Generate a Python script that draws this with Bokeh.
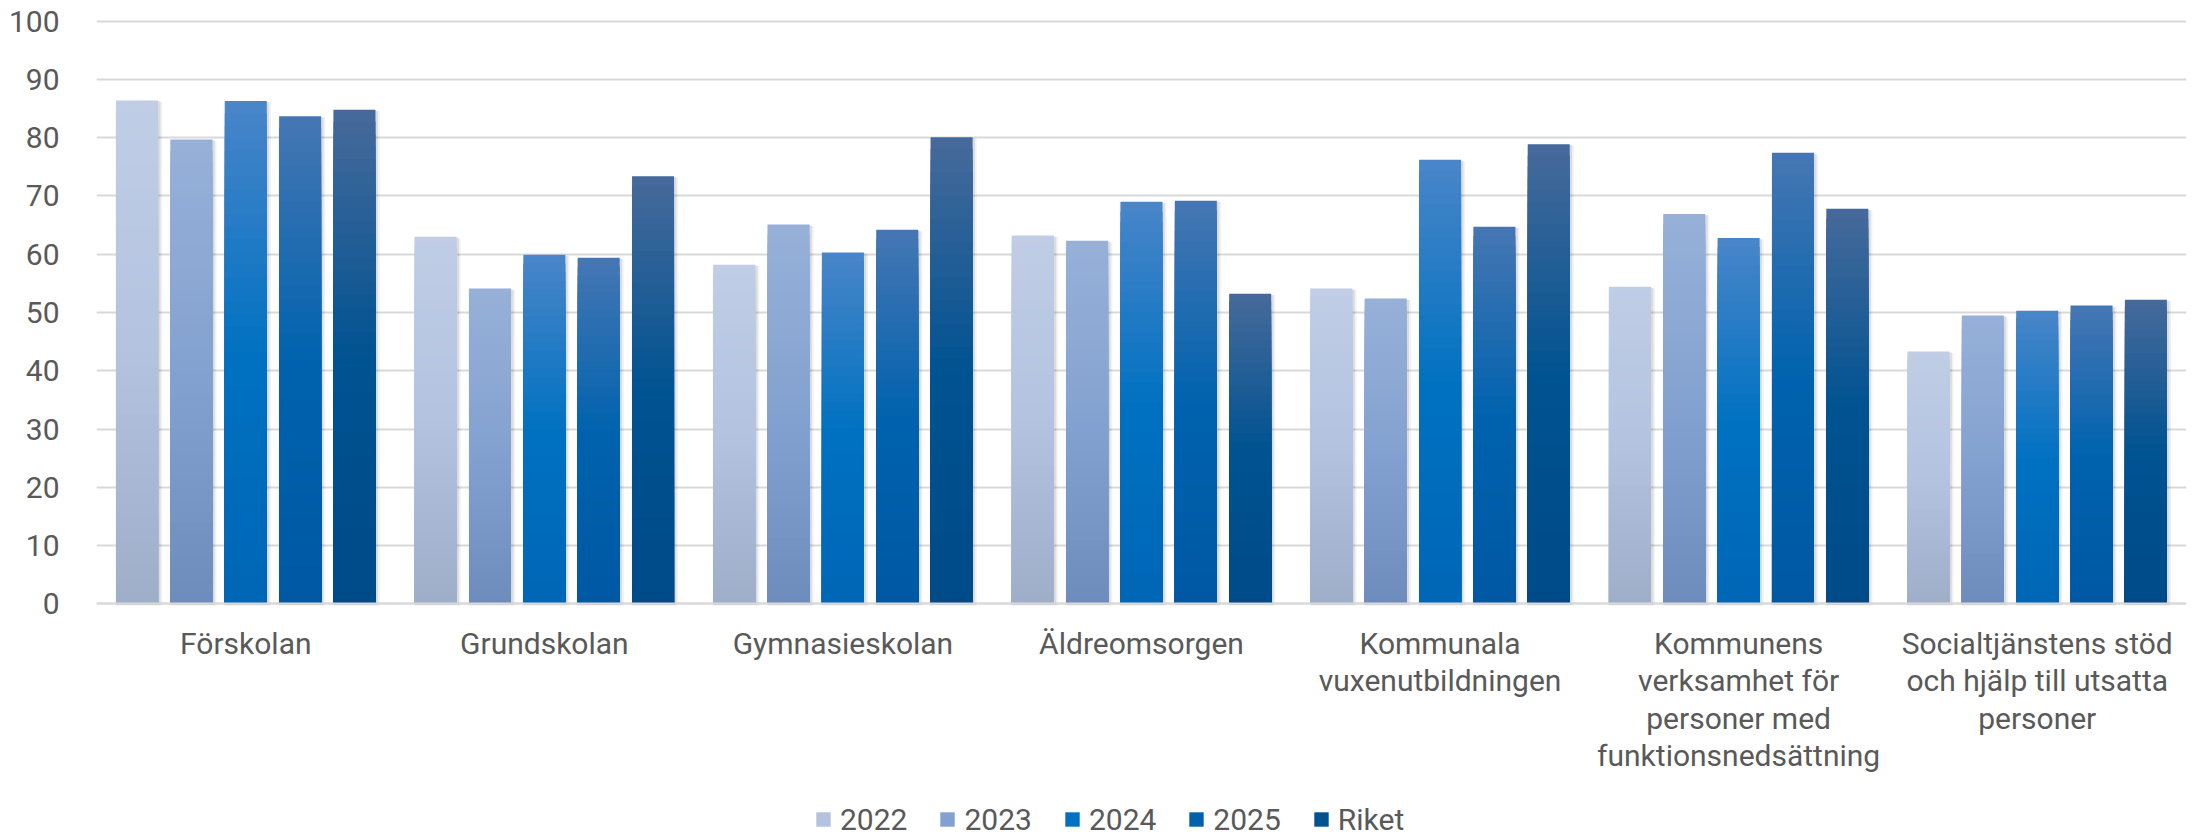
from bokeh.plotting import figure
from bokeh.models import Range1d, FixedTicker, ColumnDataSource, Legend, LegendItem
from bokeh.core.properties import value
from bokeh.embed import file_html
from bokeh.resources import INLINE

# ---------------- data ----------------
categories = [
    "Förskolan",
    "Grundskolan",
    "Gymnasieskolan",
    "Äldreomsorgen",
    "Kommunala\nvuxenutbildningen",
    "Kommunens\nverksamhet för\npersoner med\nfunktionsnedsättning",
    "Socialtjänstens stöd\noch hjälp till utsatta\npersoner",
]
series_names = ["2022", "2023", "2024", "2025", "Riket"]
v2022 = [86.4, 63.0, 58.2, 63.2, 54.1, 54.4, 43.3]
v2023 = [79.7, 54.1, 65.1, 62.3, 52.4, 66.9, 49.5]
v2024 = [86.3, 59.9, 60.3, 69.0, 76.2, 62.8, 50.3]
v2025 = [83.7, 59.4, 64.2, 69.2, 64.7, 77.4, 51.2]
riket = [84.8, 73.4, 80.1, 53.2, 78.9, 67.8, 52.2]
y_ticks = [0, 10, 20, 30, 40, 50, 60, 70, 80, 90, 100]

series_values = [v2022, v2023, v2024, v2025, riket]

# gradient stops per series: top, middle, bottom
series_colors = [
    ("#c0cde5", "#b3c3e0", "#9eadc8"),
    ("#96b0d8", "#84a2d0", "#6d8cbd"),
    ("#4a86c9", "#0071c1", "#0066b6"),
    ("#4677b3", "#0062ae", "#0058a3"),
    ("#476a9b", "#005391", "#004a88"),
]

TEXT = "#595959"
FONT = "Roboto"
GRID = "#d9d9d9"
FS = "30px"

N_BANDS = 40
STEP = 0.182
BAR_W = 0.1406

# ---------------- layout (pixels) ----------------
CANVAS_H = 837
TOP_BORDER = 18
Y100_PX = 20.7      # screen y of value 100
Y0_PX = 603.3       # screen y of value 0
PX_PER_UNIT = (Y0_PX - Y100_PX) / 100.0
FRAME_H = CANVAS_H - TOP_BORDER
Y_TOP = 100 + (Y100_PX - TOP_BORDER) / PX_PER_UNIT
Y_BOT = -(CANVAS_H - Y0_PX) / PX_PER_UNIT
LABEL_TOP_PX = 625.5
LABEL_Y = -(LABEL_TOP_PX - Y0_PX) / PX_PER_UNIT
LEGEND_CENTER_PX = 819
LEGEND_H = 35
LEGEND_LEFT = 718


def hex_rgb(h):
    h = h.lstrip("#")
    return tuple(int(h[i:i + 2], 16) for i in (0, 2, 4))


def grad_color(stops, f):
    # f: 0 at top, 1 at bottom
    top, mid, bot = (hex_rgb(s) for s in stops)
    if f <= 0.5:
        a, b, t = top, mid, f / 0.5
    else:
        a, b, t = mid, bot, (f - 0.5) / 0.5
    c = tuple(round(a[i] + (b[i] - a[i]) * t) for i in range(3))
    return "#%02x%02x%02x" % c


p = figure(
    frame_width=2090,
    frame_height=FRAME_H,
    x_range=Range1d(0, 7),
    y_range=Range1d(Y_BOT, Y_TOP),
    output_backend="svg",
    toolbar_location=None,
    min_border_left=96,
    min_border_right=3,
    min_border_top=TOP_BORDER,
    min_border_bottom=0,
    outline_line_color=None,
    background_fill_color="white",
    border_fill_color="white",
)

# grid
p.xgrid.grid_line_color = None
p.ygrid.ticker = FixedTicker(ticks=y_ticks)
p.ygrid.grid_line_color = GRID
p.ygrid.grid_line_width = 2

# bars with shadow + vertical gradient
legend_items = []
n_cat = len(categories)
for s, (name, vals, stops) in enumerate(zip(series_names, series_values, series_colors)):
    off = (s - 2) * STEP
    xs = [i + 0.5 + off for i in range(n_cat)]

    # soft shadow
    p.vbar(x=[x + 0.006 for x in xs], top=[v - 0.25 for v in vals], bottom=-0.35,
           width=BAR_W + 0.016, fill_color="black", fill_alpha=0.05, line_color=None)
    p.vbar(x=[x + 0.004 for x in xs], top=[v - 0.15 for v in vals], bottom=-0.2,
           width=BAR_W + 0.008, fill_color="black", fill_alpha=0.09, line_color=None)

    bx, btop, bcol = [], [], []
    for k in range(N_BANDS, 0, -1):
        frac_top = k / N_BANDS
        f = 1 - (k - 0.5) / N_BANDS
        col = grad_color(stops, f)
        for x, v in zip(xs, vals):
            bx.append(x)
            btop.append(v * frac_top)
            bcol.append(col)
    src = ColumnDataSource(dict(x=bx, top=btop, color=bcol))
    r = p.vbar(x="x", top="top", bottom=0, width=BAR_W, fill_color="color",
               line_color=None, source=src)

    # legend swatch uses the mid-gradient band of this series
    mid_index = (N_BANDS // 2) * n_cat
    legend_items.append(LegendItem(label=name, renderers=[r], index=mid_index))

# baseline (category axis line)
p.hspan(y=[0], line_color=GRID, line_width=2.2)

# category labels
lab_src = ColumnDataSource(dict(
    x=[i + 0.5 for i in range(n_cat)],
    y=[LABEL_Y] * n_cat,
    text=categories,
))
p.text(x="x", y="y", text="text", source=lab_src,
       text_align="center", text_baseline="top",
       text_font=value(FONT), text_font_size=value(FS),
       text_color=TEXT, text_line_height=1.07)

# axes
p.xaxis.visible = False
p.yaxis.ticker = FixedTicker(ticks=y_ticks)
p.yaxis.axis_line_color = None
p.yaxis.major_tick_line_color = None
p.yaxis.minor_tick_line_color = None
p.yaxis.major_label_text_font = FONT
p.yaxis.major_label_text_font_size = FS
p.yaxis.major_label_text_color = TEXT
p.yaxis.major_label_standoff = 31

legend = Legend(
    items=legend_items,
    orientation="horizontal",
    location=(LEGEND_LEFT, CANVAS_H - (LEGEND_CENTER_PX + LEGEND_H / 2)),
    glyph_width=18,
    glyph_height=18,
    label_standoff=8,
    spacing=31,
    padding=0,
    margin=0,
    label_text_font=FONT,
    label_text_font_size=FS,
    label_text_color=TEXT,
    border_line_color=None,
    background_fill_alpha=0,
)
p.add_layout(legend, "center")

open("out.html", "w").write(file_html(p, INLINE))
